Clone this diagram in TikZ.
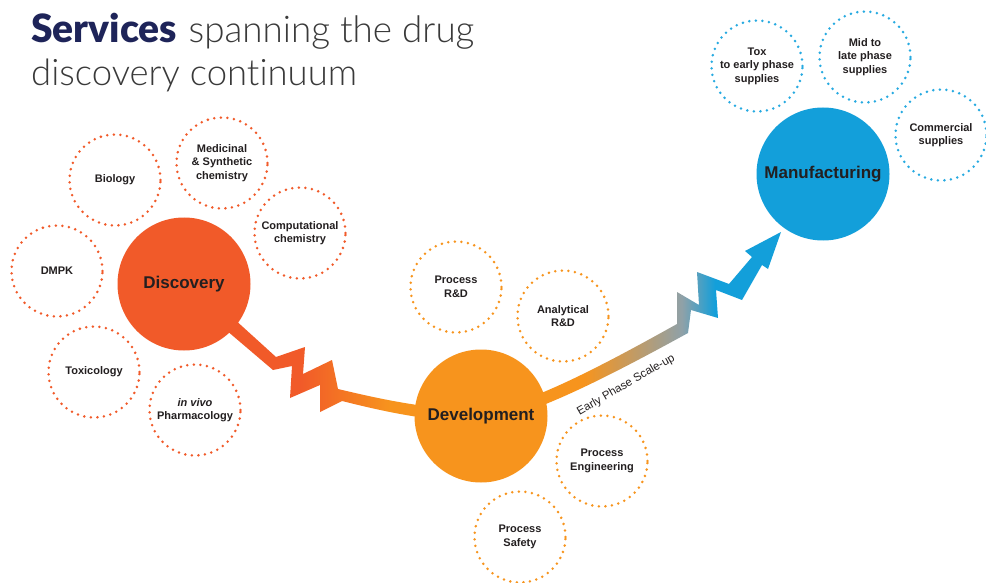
\documentclass[tikz,border=0pt]{standalone}
\usepackage{fontspec}
\setmainfont{Liberation Sans}
\IfFontExistsTF{Lato Light}{\newfontfamily\titlethin{Lato Light}[Ligatures=NoCommon]}{\newfontfamily\titlethin{Lato}[Ligatures=NoCommon]}
\IfFontExistsTF{Lato Black}{\newfontfamily\titleheavy{Lato Black}}{\newfontfamily\titleheavy{Lato}[UprightFont=*-Bold]}
\usetikzlibrary{calc}
\definecolor{discred}{HTML}{F15A29}
\definecolor{devorange}{HTML}{F7941D}
\definecolor{manblue}{HTML}{139FDA}
\definecolor{midgray}{HTML}{8FA1A8}
\definecolor{dotblue}{HTML}{27AAE1}
\definecolor{textdark}{HTML}{231F20}
\definecolor{navy}{HTML}{1E2459}
\definecolor{titlegray}{HTML}{3A3A3A}
\pgfdeclarehorizontalshading{bandone}{100bp}{color(0bp)=(discred); color(45bp)=(discred); color(60bp)=(devorange); color(100bp)=(devorange)}
\pgfdeclarehorizontalshading{bandtwo}{100bp}{color(0bp)=(devorange); color(42bp)=(devorange); color(58.5bp)=(midgray); color(64bp)=(manblue); color(100bp)=(manblue)}
\pgfdeclarelayer{bg}
\pgfsetlayers{bg,main}
\tikzset{
  dotcirc/.style={circle, minimum size=91pt, inner sep=0pt, line width=2.8pt,
    dash pattern=on 0pt off 6.6pt, line cap=round, align=center, text=textdark,
    font=\bfseries\fontsize{11}{13.5}\selectfont},
  bigcirc/.style={circle, minimum size=133pt, inner sep=0pt, text=textdark,
    font=\bfseries\fontsize{17}{20}\selectfont}
}
\begin{document}
\begin{tikzpicture}[x=1pt,y=-1pt]
\useasboundingbox (0,0) rectangle (986,583);

% title
\node[anchor=base west, inner sep=0pt, text=navy, font=\titleheavy\fontsize{39}{44}\selectfont] (t1) at (31,43) {Services\hspace{1.5pt}\textcolor{titlegray}{\titlethin\fontsize{36.8}{44}\selectfont\ spanning the drug}};
\node[anchor=base west, inner sep=0pt, text=titlegray, font=\titlethin\fontsize{36.5}{44}\selectfont] (t2) at (31,86) {discovery continuum};

% main circles
\node[bigcirc, fill=discred] (disc) at (184,284) {Discovery};
\node[bigcirc, fill=devorange] (dev) at (481,416) {Development};
\node[bigcirc, fill=manblue] (man) at (823,174) {Manufacturing};

% discovery satellites
\node[dotcirc, draw=discred] (bio) at (115,180) {Biology};
\node[dotcirc, draw=discred] (med) at (222,163) {Medicinal\\\& Synthetic\\chemistry};
\node[dotcirc, draw=discred] (comp) at (300,233) {Computational\\chemistry};
\node[dotcirc, draw=discred] (dmpk) at (57,271) {DMPK};
\node[dotcirc, draw=discred] (tox) at (94,372) {Toxicology};
\node[dotcirc, draw=discred] (pharm) at (195,410) {\textit{in vivo}\\Pharmacology};

% development satellites
\node[dotcirc, draw=devorange] (prd) at (456,287) {Process\\R\&D};
\node[dotcirc, draw=devorange] (ard) at (563,316) {Analytical\\R\&D};
\node[dotcirc, draw=devorange] (peng) at (602,461) {Process\\Engineering};
\node[dotcirc, draw=devorange] (psafe) at (520,537) {Process\\Safety};

% manufacturing satellites
\node[dotcirc, draw=dotblue] (early) at (757,66) {Tox\\to early phase\\supplies};
\node[dotcirc, draw=dotblue] (late) at (865,57) {Mid to\\late phase\\supplies};
\node[dotcirc, draw=dotblue] (comm) at (941,135) {Commercial\\supplies};

% connectors
\begin{pgfonlayer}{bg}
\fill[white] (0,0) rectangle (986,583);
\shade[shading=bandone] ($(disc.center)+(5,-6)$) -- (276,357) -- (305,347) -- (303,374) -- (332,360) -- (338,389)
  .. controls (380,399) and (430,410) .. ($(dev.center)+(0,-6)$)
  -- ($(dev.center)+(0,6)$)
  .. controls (430,422) and (382,411) .. (342,401)
  -- (320,412) -- (320,385) -- (290,398) -- (292,366) -- (273,370)
  -- ($(disc.center)+(-5,6)$) -- cycle;
\shade[shading=bandtwo] ($(dev.center)+(0,-6)$)
  .. controls (522,408) and (600,367) .. (677,324)
  -- (677,292) -- (699,305) -- (697,272) -- (729,284) -- (752,257) -- (745,251)
  -- (781,232) -- (768,269) -- (762,265) -- (742,300) -- (716,290) -- (718,318)
  -- (691,310) -- (688,333)
  .. controls (606,378) and (524,420) .. ($(dev.center)+(0,6)$) -- cycle;
\end{pgfonlayer}

\node[rotate=30, text=textdark, font=\fontsize{11.5}{13}\selectfont, inner sep=0pt] (scale) at (626,385) {Early Phase Scale-up};
\end{tikzpicture}
\end{document}
